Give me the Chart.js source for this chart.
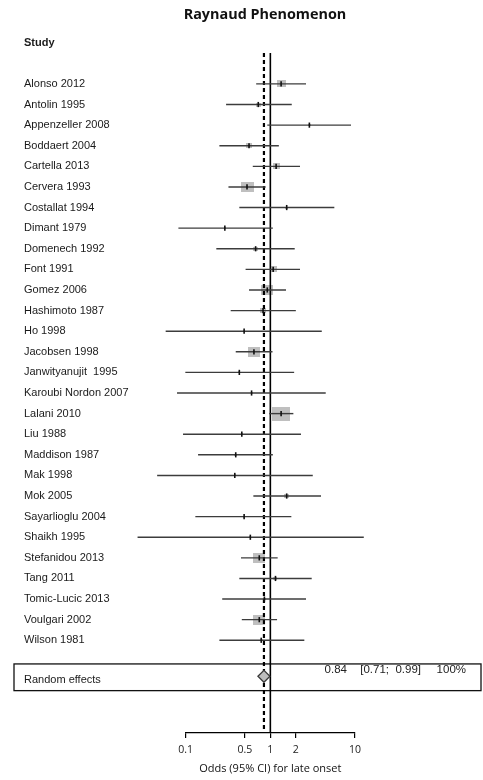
<!DOCTYPE html>
<html>
<head>
<meta charset="utf-8">
<title>Raynaud Phenomenon</title>
<script src="https://cdn.jsdelivr.net/npm/chart.js@4.4.1/dist/chart.umd.min.js"></script>
<style>
	html, body { margin: 0; padding: 0; background: #fff; }
	#wrap { width: 483px; height: 780px; }
</style>
</head>
<body>
<div id="wrap"><canvas id="forest" width="483" height="780"></canvas></div>
<script>
// --- Data ---
const studies = [
	"Alonso 2012", "Antolin 1995", "Appenzeller 2008", "Boddaert 2004",
	"Cartella 2013", "Cervera 1993", "Costallat 1994", "Dimant 1979",
	"Domenech 1992", "Font 1991", "Gomez 2006", "Hashimoto 1987",
	"Ho 1998", "Jacobsen 1998", "Janwityanujit  1995", "Karoubi Nordon 2007",
	"Lalani 2010", "Liu 1988", "Maddison 1987", "Mak 1998",
	"Mok 2005", "Sayarlioglu 2004", "Shaikh 1995", "Stefanidou 2013",
	"Tang 2011", "Tomic-Lucic 2013", "Voulgari 2002", "Wilson 1981"
];
const oddsRatio = [
	1.34, 0.72, 2.89, 0.56, 1.17, 0.53, 1.56, 0.29, 0.67, 1.08,
	0.92, 0.82, 0.49, 0.64, 0.43, 0.60, 1.34, 0.46, 0.39, 0.38,
	1.56, 0.49, 0.58, 0.74, 1.15, 0.85, 0.74, 0.78
];
const ciLower = [
	0.68, 0.30, 0.92, 0.25, 0.62, 0.32, 0.43, 0.082, 0.23, 0.51,
	0.56, 0.34, 0.058, 0.39, 0.099, 0.079, 0.97, 0.093, 0.14, 0.046,
	0.63, 0.13, 0.027, 0.45, 0.43, 0.27, 0.46, 0.25
];
const ciUpper = [
	2.64, 1.79, 8.97, 1.26, 2.24, 0.88, 5.70, 1.07, 1.94, 2.24,
	1.53, 2.00, 4.05, 1.06, 1.91, 4.51, 1.87, 2.30, 1.07, 3.17,
	3.97, 1.77, 12.7, 1.22, 3.08, 2.64, 1.20, 2.52
];
// study weight (%), estimated from the grey box sizes
const weights = [
	5.6, 3.1, 1.9, 3.7, 4.3, 8.0, 1.9, 1.2, 3.1, 4.3,
	7.4, 3.7, 1.2, 7.4, 1.2, 1.2, 10.9, 1.2, 1.9, 1.2,
	3.1, 1.2, 1.2, 7.4, 2.5, 1.9, 7.4, 1.9
];
const pooledOR = 0.84;
const pooledCI = [0.71, 0.99];
const pooledWeight = "100%";
const xTicks = [0.1, 0.5, 1, 2, 10];

const chartTitle = "Raynaud Phenomenon";
const headerLabel = "Study";
const summaryLabel = "Random effects";
const xTitle = "Odds (95% CI) for late onset";

// row positions on the (reversed) y scale
const headerRow = -2;
const summaryRow = studies.length + 0.75;
const summaryLabelRow = studies.length + 0.95;

const LABEL_FONT = "'Liberation Sans', Arial, sans-serif";
const AXIS_FONT = "'Open Sans', 'DejaVu Sans', sans-serif";

// grey weight boxes as little canvases (slightly wider than tall, like the source)
function makeBox(w) {
	const c = document.createElement("canvas");
	c.width = Math.max(2, Math.round(w));
	c.height = Math.max(2, Math.round(w * 0.8));
	const g = c.getContext("2d");
	g.fillStyle = "#bfbfbf";
	g.fillRect(0, 0, c.width, c.height);
	return c;
}
const boxStyles = weights.map((w) => makeBox(w * 1.62));

// --- text that is not part of an axis ---
const forestText = {
	id: "forestText",
	beforeDatasetsDraw(chart) {
		const ctx = chart.ctx;
		const y = chart.scales.y.getPixelForValue(summaryRow);
		ctx.save();
		ctx.strokeStyle = "#111";
		ctx.lineWidth = 1.3;
		ctx.strokeRect(14, y - 12.4, 467, 26.7);
		ctx.restore();
	},
	afterDraw(chart) {
		const ctx = chart.ctx;
		const y = chart.scales.y.getPixelForValue(summaryRow) - 6.4;
		ctx.save();
		ctx.fillStyle = "#111";
		ctx.font = "bold 14.4px 'Open Sans', sans-serif";
		ctx.textAlign = "center";
		ctx.textBaseline = "middle";
		ctx.fillText(chartTitle, 265, 15);

		ctx.fillStyle = "#222";
		ctx.font = "11.5px " + LABEL_FONT;
		ctx.textAlign = "right";
		ctx.fillText(pooledOR.toFixed(2), 347, y);
		ctx.fillText("[" + pooledCI[0].toFixed(2) + ";  " + pooledCI[1].toFixed(2) + "]", 421, y);
		ctx.fillText(pooledWeight, 466, y);
		ctx.restore();
	},
};

const ctx = document.getElementById("forest").getContext("2d");

new Chart(ctx, {
	type: "scatter",
	data: {
		datasets: [
			{
				// point estimate tick
				data: studies.map((s, i) => ({ x: oddsRatio[i], y: i })),
				pointStyle: "line",
				rotation: 90,
				radius: 2.6,
				borderColor: "#111",
				borderWidth: 1.6,
				clip: false,
			},
			{
				// pooled diamond
				data: [{ x: pooledOR, y: summaryRow }],
				pointStyle: "rectRot",
				radius: 6,
				backgroundColor: "#bdbdbd",
				borderColor: "#3a3a3a",
				borderWidth: 1.3,
				clip: false,
			},
			{
				// confidence intervals
				type: "bar",
				indexAxis: "y",
				data: studies.map((s, i) => ({ x: [ciLower[i], ciUpper[i]], y: i })),
				backgroundColor: "#3c3c3c",
				borderWidth: 0,
				barThickness: 1.4,
				inflateAmount: 0,
				clip: false,
			},
			{
				// line of no effect
				data: [{ x: 1, y: -1.5 }, { x: 1, y: 31.5 }],
				showLine: true,
				borderColor: "#000",
				borderWidth: 1.6,
				pointRadius: 0,
			},
			{
				// pooled estimate
				data: [{ x: pooledOR, y: -1.5 }, { x: pooledOR, y: 31.3 }],
				showLine: true,
				borderColor: "#000",
				borderWidth: 2.2,
				borderDash: [4, 3],
				pointRadius: 0,
			},
			{
				// weight boxes
				data: studies.map((s, i) => ({ x: oddsRatio[i], y: i })),
				pointStyle: boxStyles,
				radius: 6,
				clip: false,
			},
		],
	},
	options: {
		responsive: false,
		animation: false,
		events: [],
		layout: { padding: { left: 24, right: 128, top: 32.4, bottom: 0 } },
		plugins: {
			legend: { display: false },
			tooltip: { enabled: false },
			title: { display: false },
		},
		scales: {
			x: {
				type: "logarithmic",
				min: 0.1,
				max: 10,
				afterBuildTicks: (scale) => {
					scale.ticks = xTicks.map((v) => ({ value: v }));
				},
				afterFit: (scale) => {
					scale.height = 47;
				},
				ticks: {
					autoSkip: false,
					maxRotation: 0,
					padding: 5.5,
					color: "#222",
					font: { family: AXIS_FONT, size: 10.5 },
					callback: (v) => String(v),
				},
				grid: {
					drawOnChartArea: false,
					drawTicks: true,
					tickLength: 5,
					color: "#000",
					lineWidth: 1.2,
				},
				border: { display: true, color: "#000", width: 1.2 },
				title: {
					display: true,
					text: xTitle,
					color: "#111",
					font: { family: AXIS_FONT, size: 11 },
					padding: { top: 0, bottom: 4.4 },
				},
			},
			y: {
				type: "linear",
				reverse: true,
				min: -2.5,
				max: 31.5,
				offset: false,
				afterBuildTicks: (scale) => {
					const vals = [headerRow].concat(studies.map((s, i) => i), [summaryLabelRow]);
					scale.ticks = vals.map((v) => ({ value: v }));
				},
				afterFit: (scale) => {
					scale.width = 161.7;
				},
				ticks: {
					autoSkip: false,
					crossAlign: "far",
					padding: 0,
					color: "#1a1a1a",
					font: (c) => ({
						family: LABEL_FONT,
						size: 11,
						weight: c.tick && c.tick.value === headerRow ? "bold" : "normal",
					}),
					callback: (v) => {
						if (v === headerRow) return headerLabel;
						if (v === summaryLabelRow) return summaryLabel;
						return studies[v];
					},
				},
				grid: { display: false, drawTicks: false },
				border: { display: false },
			},
		},
	},
	plugins: [forestText],
});
</script>
</body>
</html>
